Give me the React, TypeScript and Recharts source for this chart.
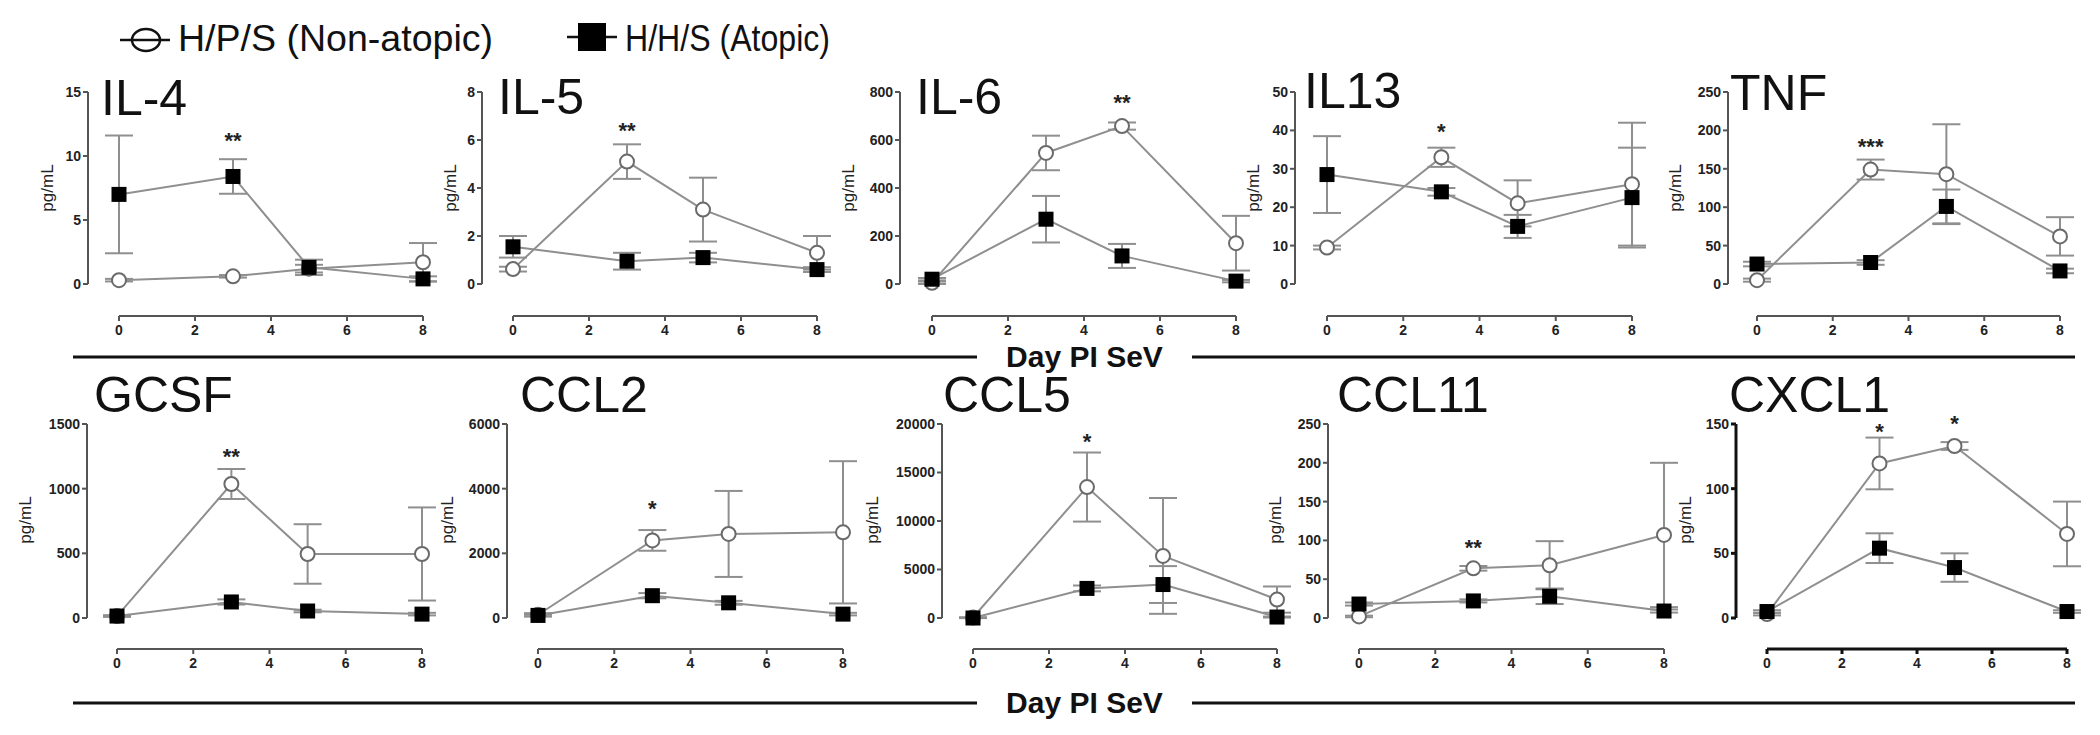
import React from 'react';
import { LineChart, Line, XAxis, YAxis, ErrorBar, ReferenceLine, ReferenceDot } from 'recharts';

// sampling days (post infection) and x tick labels
const DAYS = [0, 3, 5, 8];
const DAY_TICKS = [0, 2, 4, 6, 8];

const LEGEND = ['H/P/S (Non-atopic)', 'H/H/S (Atopic)'];
const X_LABEL = 'Day PI SeV';
const Y_LABEL = 'pg/mL';

// mean and SEM per group
const IL4_NON = [0.3, 0.6, 1.2, 1.7];
const IL4_NON_SEM = [0.1, 0.1, 0.3, 1.5];
const IL4_ATO = [7.0, 8.4, 1.3, 0.4];
const IL4_ATO_SEM = [4.6, 1.35, 0.6, 0.2];
const IL4_TICKS = [0, 5, 10, 15];

const IL5_NON = [0.62, 5.1, 3.1, 1.3];
const IL5_NON_SEM = [0.1, 0.72, 1.33, 0.7];
const IL5_ATO = [1.55, 0.95, 1.1, 0.6];
const IL5_ATO_SEM = [0.45, 0.35, 0.2, 0.1];
const IL5_TICKS = [0, 2, 4, 6, 8];

const IL6_NON = [5, 546, 658, 170];
const IL6_NON_SEM = [5, 72, 15, 114];
const IL6_ATO = [20, 270, 117, 12];
const IL6_ATO_SEM = [5, 97, 50, 5];
const IL6_TICKS = [0, 200, 400, 600, 800];

const IL13_NON = [9.5, 33, 21, 26];
const IL13_NON_SEM = [0.5, 2.5, 6, 16];
const IL13_ATO = [28.5, 24, 15, 22.5];
const IL13_ATO_SEM = [10, 1, 3, 13];
const IL13_TICKS = [0, 10, 20, 30, 40, 50];

const TNF_NON = [5, 149, 143, 62];
const TNF_NON_SEM = [2, 13, 65, 25];
const TNF_ATO = [26, 28, 101, 17];
const TNF_ATO_SEM = [3, 3, 22, 3];
const TNF_TICKS = [0, 50, 100, 150, 200, 250];

const GCSF_NON = [15, 1036, 495, 495];
const GCSF_NON_SEM = [5, 116, 230, 360];
const GCSF_ATO = [15, 124, 54, 30];
const GCSF_ATO_SEM = [5, 20, 10, 10];
const GCSF_TICKS = [0, 500, 1000, 1500];

const CCL2_NON = [100, 2400, 2600, 2650];
const CCL2_NON_SEM = [50, 320, 1330, 2200];
const CCL2_ATO = [80, 690, 470, 120];
const CCL2_ATO_SEM = [30, 80, 60, 40];
const CCL2_TICKS = [0, 2000, 4000, 6000];

const CCL5_NON = [50, 13500, 6400, 1900];
const CCL5_NON_SEM = [20, 3560, 5970, 1350];
const CCL5_ATO = [0, 3050, 3450, 100];
const CCL5_ATO_SEM = [10, 300, 1900, 50];
const CCL5_TICKS = [0, 5000, 10000, 15000, 20000];

const CCL11_NON = [2, 64, 68, 107];
const CCL11_NON_SEM = [1, 3, 31, 93];
const CCL11_ATO = [18, 22, 28, 9];
const CCL11_ATO_SEM = [2, 2, 10, 2];
const CCL11_TICKS = [0, 50, 100, 150, 200, 250];

const CXCL1_NON = [3, 119.5, 133, 65];
const CXCL1_NON_SEM = [1, 20, 3, 25];
const CXCL1_ATO = [5, 54, 39, 5];
const CXCL1_ATO_SEM = [1, 11.5, 11, 1];
const CXCL1_TICKS = [0, 50, 100, 150];

// significance marks: day, height in pg/mL, text
const IL4_SIG = [{ day: 3, y: 11.6, text: '**' }];
const IL5_SIG = [{ day: 3, y: 6.6, text: '**' }];
const IL6_SIG = [{ day: 5, y: 775, text: '**' }];
const IL13_SIG = [{ day: 3, y: 41, text: '*' }];
const TNF_SIG = [{ day: 3, y: 185, text: '***' }];
const GCSF_SIG = [{ day: 3, y: 1284, text: '**' }];
const CCL2_SIG = [{ day: 3, y: 3530, text: '*' }];
const CCL5_SIG = [{ day: 3, y: 18640, text: '*' }];
const CCL11_SIG = [{ day: 3, y: 97, text: '**' }];
const CXCL1_SIG = [
  { day: 3, y: 148, text: '*' },
  { day: 5, y: 154, text: '*' },
];

const PANELS = [
  { name: 'IL-4', non: IL4_NON, nonSem: IL4_NON_SEM, ato: IL4_ATO, atoSem: IL4_ATO_SEM, ticks: IL4_TICKS, sig: IL4_SIG },
  { name: 'IL-5', non: IL5_NON, nonSem: IL5_NON_SEM, ato: IL5_ATO, atoSem: IL5_ATO_SEM, ticks: IL5_TICKS, sig: IL5_SIG },
  { name: 'IL-6', non: IL6_NON, nonSem: IL6_NON_SEM, ato: IL6_ATO, atoSem: IL6_ATO_SEM, ticks: IL6_TICKS, sig: IL6_SIG },
  { name: 'IL13', non: IL13_NON, nonSem: IL13_NON_SEM, ato: IL13_ATO, atoSem: IL13_ATO_SEM, ticks: IL13_TICKS, sig: IL13_SIG },
  { name: 'TNF', non: TNF_NON, nonSem: TNF_NON_SEM, ato: TNF_ATO, atoSem: TNF_ATO_SEM, ticks: TNF_TICKS, sig: TNF_SIG },
  { name: 'GCSF', non: GCSF_NON, nonSem: GCSF_NON_SEM, ato: GCSF_ATO, atoSem: GCSF_ATO_SEM, ticks: GCSF_TICKS, sig: GCSF_SIG },
  { name: 'CCL2', non: CCL2_NON, nonSem: CCL2_NON_SEM, ato: CCL2_ATO, atoSem: CCL2_ATO_SEM, ticks: CCL2_TICKS, sig: CCL2_SIG },
  { name: 'CCL5', non: CCL5_NON, nonSem: CCL5_NON_SEM, ato: CCL5_ATO, atoSem: CCL5_ATO_SEM, ticks: CCL5_TICKS, sig: CCL5_SIG },
  { name: 'CCL11', non: CCL11_NON, nonSem: CCL11_NON_SEM, ato: CCL11_ATO, atoSem: CCL11_ATO_SEM, ticks: CCL11_TICKS, sig: CCL11_SIG },
  { name: 'CXCL1', non: CXCL1_NON, nonSem: CXCL1_NON_SEM, ato: CXCL1_ATO, atoSem: CXCL1_ATO_SEM, ticks: CXCL1_TICKS, sig: CXCL1_SIG },
];

// page layout (px)
const ROW1 = { top: 92, bottom: 284, xAxisY: 316, labelY: 188, sepY: 357 };
const ROW2 = { top: 424, bottom: 618, xAxisY: 649, labelY: 520, sepY: 703 };

const LAYOUT: Record<string, any> = {
  'IL-4': { row: ROW1, axisX: 88, left: 119, right: 423, titleX: 101, titleY: 115, labelX: 47 },
  'IL-5': { row: ROW1, axisX: 482, left: 513, right: 817, titleX: 498, titleY: 114, labelX: 450 },
  'IL-6': { row: ROW1, axisX: 900, left: 932, right: 1236, titleX: 916, titleY: 114, labelX: 848 },
  IL13: { row: ROW1, axisX: 1295, left: 1327, right: 1632, titleX: 1304, titleY: 108, labelX: 1253 },
  TNF: { row: ROW1, axisX: 1728, left: 1757, right: 2060, titleX: 1730, titleY: 110, labelX: 1675 },
  GCSF: { row: ROW2, axisX: 87, left: 117, right: 422, titleX: 94, titleY: 412, labelX: 25 },
  CCL2: { row: ROW2, axisX: 507, left: 538, right: 843, titleX: 520, titleY: 412, labelX: 447 },
  CCL5: { row: ROW2, axisX: 942, left: 973, right: 1277, titleX: 943, titleY: 412, labelX: 872 },
  CCL11: { row: ROW2, axisX: 1328, left: 1359, right: 1664, titleX: 1337, titleY: 412, labelX: 1275 },
  CXCL1: { row: ROW2, axisX: 1736, left: 1767, right: 2067, titleX: 1729, titleY: 412, labelX: 1685, dark: true },
};

const FONT = '"Liberation Sans", Arial, Helvetica, sans-serif';
const LINE_GRAY = '#8f8f8f';

const Square = (props: any) => {
  const { cx, cy, index } = props;
  if (cx == null || cy == null) return <g key={`sq-${index}`} />;
  return <rect key={`sq-${index}`} x={cx - 7.5} y={cy - 7.5} width={15} height={15} fill="#000" />;
};

function Panel({ p }: { p: any }) {
  const l = LAYOUT[p.name];
  const YW = 60;
  const MT = 14;
  const MR = 14;
  const XH = 34;
  const plotW = l.right - l.axisX;
  const plotH = l.row.xAxisY - l.row.top;
  const yMax = p.ticks[p.ticks.length - 1];
  const xPad = (l.left - l.axisX) / ((l.right - l.left) / 8);
  const yPad = (l.row.xAxisY - l.row.bottom) / ((l.row.bottom - l.row.top) / yMax);
  const axisColor = l.dark ? '#111' : '#555';
  const axisW = l.dark ? 3 : 2;

  const data = DAYS.map((d, i) => ({
    day: d,
    non: p.non[i],
    nonErr: p.nonSem[i],
    ato: p.ato[i],
    atoErr: p.atoSem[i],
  }));

  const tickStyle = { fill: '#222', fontSize: 14, fontWeight: 700, fontFamily: FONT };

  return (
    <div style={{ position: 'absolute', left: l.axisX - YW, top: l.row.top - MT }}>
      <LineChart
        width={YW + plotW + MR}
        height={MT + plotH + XH}
        data={data}
        margin={{ top: MT, right: MR, bottom: 0, left: 0 }}
      >
        <XAxis
          dataKey="day"
          type="number"
          domain={[-xPad, 8]}
          ticks={DAY_TICKS}
          axisLine={false}
          tickLine={{ stroke: axisColor, strokeWidth: axisW }}
          tickSize={5}
          tickMargin={4}
          tick={tickStyle}
          height={XH}
        />
        <YAxis
          type="number"
          domain={[-yPad, yMax]}
          ticks={p.ticks}
          axisLine={false}
          tickLine={{ stroke: axisColor, strokeWidth: axisW }}
          tickSize={5}
          tickMargin={2}
          tick={tickStyle}
          width={YW}
        />
        <ReferenceLine
          segment={[{ x: -xPad, y: 0 }, { x: -xPad, y: yMax }]}
          stroke={axisColor}
          strokeWidth={axisW}
          ifOverflow="visible"
        />
        <ReferenceLine
          segment={[{ x: 0, y: -yPad }, { x: 8, y: -yPad }]}
          stroke={axisColor}
          strokeWidth={axisW}
          ifOverflow="visible"
        />
        <Line
          dataKey="non"
          stroke={LINE_GRAY}
          strokeWidth={2}
          dot={{ r: 7, fill: '#fff', stroke: '#6a6a6a', strokeWidth: 2 }}
          activeDot={false}
          isAnimationActive={false}
        >
          <ErrorBar dataKey="nonErr" width={14} stroke={LINE_GRAY} strokeWidth={2} direction="y" isAnimationActive={false} />
        </Line>
        <Line
          dataKey="ato"
          stroke={LINE_GRAY}
          strokeWidth={2}
          dot={Square}
          activeDot={false}
          isAnimationActive={false}
        >
          <ErrorBar dataKey="atoErr" width={14} stroke={LINE_GRAY} strokeWidth={2} direction="y" isAnimationActive={false} />
        </Line>
        {p.sig.map((s: any, i: number) => (
          <ReferenceDot
            key={i}
            x={s.day}
            y={s.y}
            r={0}
            ifOverflow="visible"
            shape={(props: any) => (
              <text
                x={props.cx}
                y={props.cy + 12}
                textAnchor="middle"
                fontSize={22}
                fontWeight={700}
                fontFamily={FONT}
                fill="#222"
              >
                {s.text}
              </text>
            )}
          />
        ))}
      </LineChart>
    </div>
  );
}

function Decorations() {
  const gapL = 977;
  const gapR = 1192;
  return (
    <svg width={2100} height={735} style={{ position: 'absolute', left: 0, top: 0 }} fontFamily={FONT}>
      {/* legend */}
      <ellipse cx={146} cy={40} rx={14} ry={11} fill="#fff" stroke="#111" strokeWidth={2.5} />
      <line x1={120} y1={40} x2={170} y2={40} stroke="#111" strokeWidth={2.5} />
      <text x={178} y={51} fontSize={37} fill="#111" textLength={315} lengthAdjust="spacingAndGlyphs">
        {LEGEND[0]}
      </text>
      <line x1={567} y1={37} x2={617} y2={37} stroke="#111" strokeWidth={2.5} />
      <rect x={578} y={23} width={28} height={28} fill="#000" />
      <text x={625} y={51} fontSize={37} fill="#111" textLength={205} lengthAdjust="spacingAndGlyphs">
        {LEGEND[1]}
      </text>

      {/* row separators with shared x label */}
      {[ROW1.sepY, ROW2.sepY].map((y) => (
        <g key={y}>
          <line x1={73} y1={y} x2={gapL} y2={y} stroke="#111" strokeWidth={3} />
          <line x1={gapR} y1={y} x2={2075} y2={y} stroke="#111" strokeWidth={3} />
          <text x={(gapL + gapR) / 2} y={y + 10} textAnchor="middle" fontSize={30} fontWeight={700} fill="#111">
            {X_LABEL}
          </text>
        </g>
      ))}

      {/* panel titles and y labels */}
      {PANELS.map((p) => {
        const l = LAYOUT[p.name];
        return (
          <g key={p.name}>
            <text x={l.titleX} y={l.titleY} fontSize={50} fill="#111">{p.name}</text>
            <text
              transform={`translate(${l.labelX + 6},${l.row.labelY}) rotate(-90)`}
              textAnchor="middle"
              fontSize={17}
              fill="#222"
            >
              {Y_LABEL}
            </text>
          </g>
        );
      })}
    </svg>
  );
}

export default function App() {
  return (
    <div
      style={{
        position: 'absolute',
        left: 0,
        top: 0,
        width: 2100,
        height: 735,
        background: '#fff',
        fontFamily: FONT,
        overflow: 'hidden',
      }}
    >
      <Decorations />
      {PANELS.map((p) => (
        <Panel key={p.name} p={p} />
      ))}
    </div>
  );
}
